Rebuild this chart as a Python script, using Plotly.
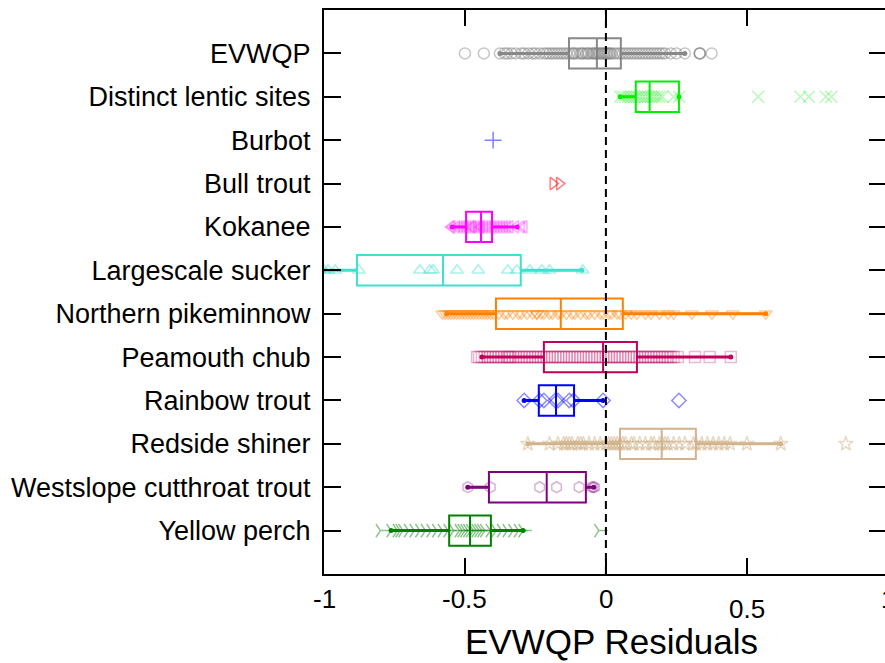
import plotly.graph_objects as go

# ---------------- data ----------------
species = ["EVWQP", "Distinct lentic sites", "Burbot", "Bull trout", "Kokanee",
           "Largescale sucker", "Northern pikeminnow", "Peamouth chub",
           "Rainbow trout", "Redside shiner", "Westslope cutthroat trout",
           "Yellow perch"]

pts_evwqp = [-0.50, -0.433, -0.376, -0.36, -0.35, -0.335, -0.32, -0.30, -0.29, -0.275,
             -0.26, -0.25, -0.235, -0.22, -0.21, -0.20, -0.19, -0.18, -0.17, -0.16,
             -0.15, -0.14, -0.13, -0.12, -0.115, -0.11, -0.10, -0.09, -0.085, -0.08,
             -0.07, -0.065, -0.06, -0.05, -0.045, -0.04, -0.035, -0.03, -0.025, -0.02,
             -0.015, -0.01, -0.005, 0.0, 0.005, 0.01, 0.015, 0.02, 0.03, 0.04, 0.05,
             0.06, 0.07, 0.08, 0.09, 0.10, 0.11, 0.12, 0.13, 0.14, 0.15, 0.16, 0.17,
             0.18, 0.19, 0.20, 0.21, 0.23, 0.25, 0.28, 0.333, 0.333, 0.333, 0.375]
pts_lentic = [0.05, 0.06, 0.07, 0.08, 0.09, 0.10, 0.11, 0.12, 0.13, 0.14, 0.15, 0.16,
              0.17, 0.18, 0.19, 0.20, 0.24, 0.26, 0.54, 0.69, 0.72, 0.78, 0.80]
pts_burbot = [-0.40]
pts_bull = [-0.188, -0.165]
pts_kokanee = [-0.55, -0.545, -0.53, -0.52, -0.51, -0.50, -0.49, -0.48, -0.475, -0.47,
               -0.46, -0.45, -0.445, -0.44, -0.43, -0.42, -0.41, -0.40, -0.39, -0.38,
               -0.37, -0.36, -0.35, -0.34, -0.32, -0.30, -0.29]
pts_largescale = [-1.0, -0.985, -0.96, -0.876, -0.66, -0.624, -0.613, -0.528, -0.453,
                  -0.348, -0.316, -0.27, -0.227, -0.20, -0.082]
pts_northern = [-0.58, -0.57, -0.56, -0.55, -0.54, -0.53, -0.52, -0.51, -0.50, -0.49,
                -0.48, -0.47, -0.46, -0.45, -0.44, -0.43, -0.42, -0.41, -0.40, -0.38,
                -0.36, -0.35, -0.33, -0.31, -0.30, -0.28, -0.26, -0.245, -0.245, -0.23,
                -0.22, -0.20, -0.19, -0.17, -0.16, -0.14, -0.12, -0.11, -0.09, -0.07,
                -0.06, -0.04, -0.02, -0.01, 0.01, 0.02, 0.04, 0.05, 0.07, 0.09, 0.11,
                0.14, 0.16, 0.19, 0.22, 0.24, 0.305, 0.376, 0.45, 0.567]
pts_peamouth = [-0.457, -0.45, -0.44, -0.43, -0.42, -0.41, -0.40, -0.39, -0.38, -0.37,
                -0.36, -0.35, -0.345, -0.34, -0.33, -0.32, -0.31, -0.30, -0.29, -0.28,
                -0.27, -0.26, -0.25, -0.24, -0.23, -0.22, -0.21, -0.20, -0.19, -0.18,
                -0.17, -0.16, -0.15, -0.14, -0.13, -0.12, -0.11, -0.10, -0.09, -0.08,
                -0.07, -0.06, -0.05, -0.04, -0.03, -0.02, -0.01, 0.0, 0.01, 0.02, 0.03,
                0.04, 0.05, 0.06, 0.07, 0.08, 0.09, 0.10, 0.11, 0.12, 0.13, 0.14, 0.15,
                0.16, 0.17, 0.18, 0.19, 0.20, 0.21, 0.22, 0.23, 0.24, 0.255, 0.316,
                0.368, 0.443]
pts_rainbow = [-0.29, -0.235, -0.22, -0.18, -0.17, -0.13, -0.115, -0.01, 0.259]
pts_redside = [-0.277, -0.20, -0.17, -0.15, -0.14, -0.13, -0.12, -0.10, -0.09, -0.08,
               -0.06, -0.04, -0.02, 0.0, 0.01, 0.02, 0.03, 0.04, 0.05, 0.06, 0.07,
               0.09, 0.10, 0.12, 0.14, 0.16, 0.17, 0.19, 0.20, 0.21, 0.22, 0.24, 0.26,
               0.28, 0.31, 0.32, 0.34, 0.36, 0.38, 0.40, 0.42, 0.44, 0.50, 0.62, 0.851]
pts_westslope = [-0.49, -0.41, -0.235, -0.175, -0.095, -0.05, -0.045, -0.04]
pts_yellow = [-0.80, -0.762, -0.74, -0.73, -0.72, -0.70, -0.68, -0.66, -0.64, -0.62,
              -0.60, -0.58, -0.56, -0.54, -0.52, -0.51, -0.50, -0.49, -0.48, -0.47,
              -0.46, -0.45, -0.44, -0.43, -0.41, -0.39, -0.37, -0.35, -0.33, -0.31,
              -0.294, -0.025]

points = [pts_evwqp, pts_lentic, pts_burbot, pts_bull, pts_kokanee, pts_largescale,
          pts_northern, pts_peamouth, pts_rainbow, pts_redside, pts_westslope, pts_yellow]

# box statistics (groups that have a box)
box_species = ["EVWQP", "Distinct lentic sites", "Kokanee", "Largescale sucker",
               "Northern pikeminnow", "Peamouth chub", "Rainbow trout", "Redside shiner",
               "Westslope cutthroat trout", "Yellow perch"]
box_q1 = [-0.131, 0.106, -0.496, -0.883, -0.39, -0.22, -0.238, 0.05, -0.415, -0.556]
box_median = [-0.032, 0.155, -0.443, -0.578, -0.16, -0.01, -0.177, 0.198, -0.21, -0.482]
box_q3 = [0.053, 0.259, -0.404, -0.302, 0.06, 0.11, -0.113, 0.319, -0.071, -0.408]
box_low = [-0.376, 0.05, -0.546, -1.0, -0.565, -0.44, -0.29, -0.277, -0.49, -0.762]
box_high = [0.28, 0.259, -0.315, -0.085, 0.567, 0.443, -0.01, 0.62, -0.043, -0.294]

x_tick_vals = [-1, -0.5, 0, 0.5, 1]
x_tick_text = ["-1", "-0.5", "0", "0.5", "1"]
x_title = "EVWQP Residuals"

# ---------------- styles ----------------
line_colors = {
    "EVWQP": "#888888", "Distinct lentic sites": "#00ee00", "Burbot": "#0000ff",
    "Bull trout": "#ff0000", "Kokanee": "#ff00ff", "Largescale sucker": "#40e0d0",
    "Northern pikeminnow": "#ff8000", "Peamouth chub": "#c0005c",
    "Rainbow trout": "#0000ff", "Redside shiner": "#d2b48c",
    "Westslope cutthroat trout": "#800080", "Yellow perch": "#008000"}
point_colors = {
    "EVWQP": "rgba(128,128,128,0.45)", "Distinct lentic sites": "rgba(0,230,0,0.28)",
    "Burbot": "rgba(0,0,255,0.5)", "Bull trout": "rgba(255,0,0,0.5)",
    "Kokanee": "rgba(255,0,255,0.35)", "Largescale sucker": "rgba(64,224,208,0.45)",
    "Northern pikeminnow": "rgba(255,128,0,0.4)", "Peamouth chub": "rgba(192,0,92,0.28)",
    "Rainbow trout": "rgba(0,0,255,0.45)", "Redside shiner": "rgba(210,180,140,0.5)",
    "Westslope cutthroat trout": "rgba(128,0,128,0.3)", "Yellow perch": "rgba(0,128,0,0.45)"}
symbols = {
    "EVWQP": "circle-open", "Distinct lentic sites": "x-thin-open",
    "Burbot": "cross-thin-open", "Bull trout": "triangle-right-open",
    "Kokanee": "triangle-left-open", "Largescale sucker": "triangle-up-open",
    "Northern pikeminnow": "triangle-down-open", "Peamouth chub": "square-open",
    "Rainbow trout": "diamond-open", "Redside shiner": "star-open",
    "Westslope cutthroat trout": "hexagon-open", "Yellow perch": "y-right-open"}
sizes = {"Distinct lentic sites": 12, "Burbot": 12, "Yellow perch": 11}

pos = {name: i + 1 for i, name in enumerate(species)}

fig = go.Figure()

# points
for name, vals in zip(species, points):
    c = point_colors[name]
    fig.add_trace(go.Scatter(
        x=vals, y=[pos[name]] * len(vals), mode="markers",
        yaxis="y2" if name == "Burbot" else "y",
        marker=dict(symbol=symbols[name], size=sizes.get(name, 11), color=c,
                    line=dict(color=c, width=1.5)),
        showlegend=False, hoverinfo="x"))

# boxes
for i, name in enumerate(box_species):
    col = line_colors[name]
    fig.add_trace(go.Box(
        y=[pos[name]], q1=[box_q1[i]], median=[box_median[i]], q3=[box_q3[i]],
        lowerfence=[box_low[i]], upperfence=[box_high[i]], orientation="h",
        width=0.7, whiskerwidth=0, boxpoints=False,
        fillcolor="rgba(0,0,0,0)", line=dict(color=col, width=2),
        showlegend=False, name=name))
    # thicker whisker strokes with end dots
    for a, b in ((box_low[i], box_q1[i]), (box_q3[i], box_high[i])):
        if a != b:
            fig.add_trace(go.Scatter(
                x=[a, b], y=[pos[name]] * 2, mode="lines",
                line=dict(color=col, width=3), showlegend=False, hoverinfo="skip"))
    fig.add_trace(go.Scatter(
        x=[box_low[i], box_high[i]], y=[pos[name]] * 2, mode="markers",
        marker=dict(size=5, color=col), showlegend=False, hoverinfo="skip"))

fig.add_shape(type="line", x0=0, x1=0, xref="x", y0=0, y1=1, yref="paper",
              line=dict(color="black", width=2, dash="8px,5px"))

xmin, xmax = -1, 0.99
font_family = "Arial, Liberation Sans, sans-serif"
for v, t in zip(x_tick_vals, x_tick_text):
    inside = v <= xmax
    fig.add_annotation(
        x=v if inside else (v - xmin) / (xmax - xmin),
        xref="x" if inside else "paper", y=0, yref="paper",
        text=t, showarrow=False, xanchor="center", yanchor="middle",
        yshift=-35 if v == 0.5 else -25,
        font=dict(size=26, color="black", family=font_family))
fig.add_annotation(x=0.513, xref="paper", y=0, yref="paper", text=x_title,
                   showarrow=False, xanchor="center", yanchor="middle", yshift=-67,
                   font=dict(size=35, color="black", family=font_family))

fig.update_layout(
    width=885, height=663,
    margin=dict(l=324, r=0, t=10, b=89),
    paper_bgcolor="white", plot_bgcolor="white",
    boxmode="overlay",
    font=dict(family=font_family, color="black"),
    xaxis=dict(range=[xmin, xmax], tickvals=x_tick_vals, showticklabels=False,
               ticks="inside", ticklen=16, tickwidth=2, tickcolor="black",
               showline=True, linewidth=2, linecolor="black", mirror="ticks",
               showgrid=False, zeroline=False),
    yaxis=dict(range=[13, 0], tickvals=list(range(1, 13)), ticktext=species,
               ticks="inside", ticklen=17, tickwidth=2, tickcolor="black",
               showline=True, linewidth=2, linecolor="black",
               showgrid=False, zeroline=False, ticklabelstandoff=6,
               tickfont=dict(size=27, color="black", family=font_family)),
    yaxis2=dict(range=[13, 0], overlaying="y", side="right", anchor="x",
                tickvals=list(range(1, 13)), showticklabels=False,
                ticks="inside", ticklen=16, tickwidth=2, tickcolor="black",
                showline=False, showgrid=False, zeroline=False),
)

fig.write_html("out.html")
